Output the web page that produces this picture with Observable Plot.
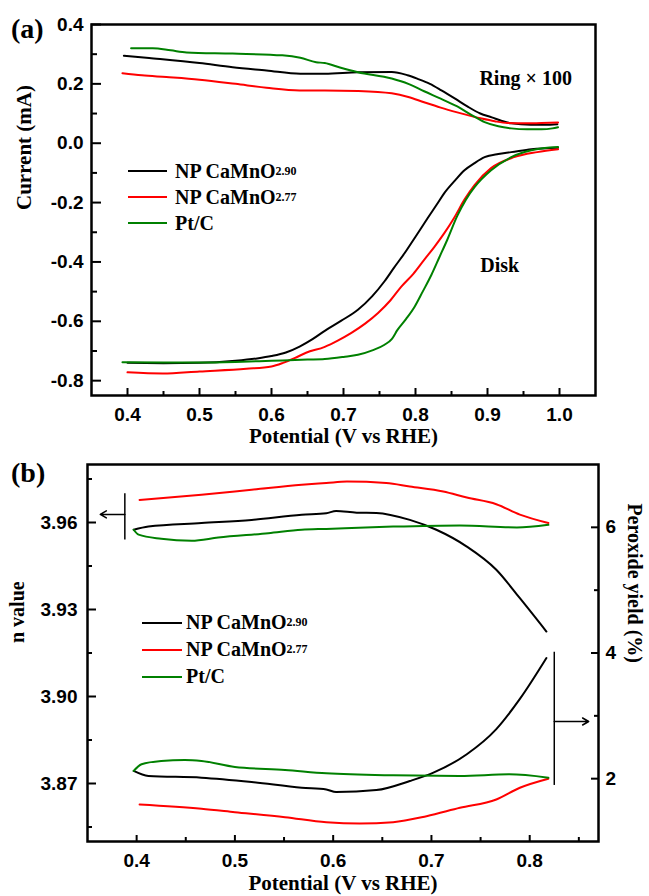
<!DOCTYPE html>
<html><head><meta charset="utf-8">
<script src="https://cdn.jsdelivr.net/npm/d3@7"></script>
<script src="https://cdn.jsdelivr.net/npm/@observablehq/plot@0.6"></script>
<style>
body{margin:0;background:#fff;}
#wrap{position:relative;width:649px;height:896px;overflow:hidden;font-family:"Liberation Serif",serif;}
.panel{position:absolute;left:0;width:649px;height:448px;}
.panel svg{position:absolute;left:0;top:0;}
.tag{position:absolute;font-weight:bold;font-size:28px;line-height:28px;}
.legend{position:absolute;font-weight:bold;font-size:20px;}
.legend .row{display:flex;align-items:center;}
.legend .sw{height:2px;}
.legend .sub{font-size:12px;}
</style></head>
<body><div id="wrap"></div>
<script>
// ---------- data ----------
const seriesNames = ["NP CaMnO2.90", "NP CaMnO2.77", "Pt/C"];
const legendBase = ["NP CaMnO", "NP CaMnO", "Pt/C"];
const legendSub = ["2.90", "2.77", ""];
const seriesColors = ["#000000", "#ff0000", "#008000"];

// (a) ring current ×100 (mA) vs potential (V vs RHE)
const ringBlack = [[0.395,0.295],[0.43,0.287],[0.5,0.27],[0.546,0.256],[0.593,0.245],[0.64,0.234],[0.674,0.234],[0.72,0.239],[0.767,0.24],[0.789,0.229],[0.803,0.217],[0.82,0.2],[0.836,0.178],[0.855,0.15],[0.872,0.124],[0.89,0.1],[0.906,0.087],[0.92,0.075],[0.933,0.067],[0.96,0.062],[0.98,0.062],[0.997,0.064]];
const ringRed = [[0.393,0.236],[0.42,0.229],[0.454,0.223],[0.5,0.214],[0.55,0.2],[0.593,0.187],[0.639,0.178],[0.674,0.178],[0.72,0.176],[0.767,0.168],[0.79,0.156],[0.812,0.138],[0.835,0.12],[0.858,0.104],[0.875,0.093],[0.892,0.083],[0.91,0.074],[0.928,0.068],[0.95,0.067],[0.975,0.068],[0.998,0.07]];
const ringGreen = [[0.405,0.32],[0.435,0.32],[0.46,0.313],[0.482,0.306],[0.546,0.302],[0.615,0.296],[0.64,0.288],[0.662,0.273],[0.674,0.27],[0.695,0.255],[0.72,0.239],[0.767,0.218],[0.79,0.2],[0.812,0.175],[0.835,0.15],[0.858,0.124],[0.878,0.095],[0.896,0.071],[0.915,0.057],[0.933,0.05],[0.955,0.047],[0.975,0.047],[0.99,0.05],[0.998,0.054]];
// (a) disk current (mA)
const diskBlack = [[0.4,-0.74],[0.45,-0.741],[0.5,-0.74],[0.55,-0.733],[0.58,-0.725],[0.6,-0.717],[0.62,-0.705],[0.639,-0.685],[0.657,-0.66],[0.674,-0.632],[0.697,-0.598],[0.72,-0.561],[0.74,-0.515],[0.757,-0.465],[0.77,-0.42],[0.785,-0.37],[0.8,-0.315],[0.817,-0.252],[0.83,-0.205],[0.84,-0.168],[0.855,-0.125],[0.868,-0.091],[0.882,-0.067],[0.896,-0.047],[0.915,-0.036],[0.933,-0.03],[0.961,-0.02],[0.998,-0.015]];
const diskRed = [[0.4,-0.772],[0.449,-0.776],[0.5,-0.769],[0.565,-0.76],[0.6,-0.752],[0.616,-0.74],[0.632,-0.724],[0.648,-0.706],[0.674,-0.686],[0.692,-0.665],[0.711,-0.639],[0.73,-0.608],[0.748,-0.572],[0.765,-0.53],[0.78,-0.484],[0.797,-0.44],[0.812,-0.393],[0.826,-0.35],[0.84,-0.303],[0.854,-0.25],[0.868,-0.19],[0.882,-0.141],[0.905,-0.084],[0.937,-0.047],[0.969,-0.03],[0.998,-0.02]];
const diskGreen = [[0.393,-0.738],[0.45,-0.739],[0.5,-0.739],[0.55,-0.737],[0.6,-0.733],[0.65,-0.729],[0.674,-0.727],[0.7,-0.72],[0.72,-0.713],[0.74,-0.698],[0.757,-0.679],[0.767,-0.66],[0.775,-0.629],[0.787,-0.592],[0.799,-0.55],[0.81,-0.5],[0.822,-0.444],[0.833,-0.385],[0.844,-0.326],[0.858,-0.245],[0.87,-0.19],[0.882,-0.148],[0.905,-0.091],[0.933,-0.047],[0.961,-0.024],[0.998,-0.013]];

// (b) electron transfer number n (left axis)
const nBlack = [[0.397,3.9575],[0.412,3.9586],[0.466,3.9598],[0.517,3.9609],[0.568,3.9627],[0.593,3.9632],[0.603,3.964],[0.624,3.9634],[0.644,3.9633],[0.678,3.9609],[0.705,3.9575],[0.736,3.9517],[0.766,3.9437],[0.79,3.9339],[0.817,3.9224]];
const nRed = [[0.403,3.9678],[0.466,3.9696],[0.517,3.9713],[0.568,3.973],[0.593,3.9736],[0.614,3.9741],[0.654,3.9736],[0.678,3.9724],[0.712,3.9707],[0.736,3.9686],[0.766,3.9663],[0.79,3.9627],[0.819,3.9598]];
const nGreen = [[0.397,3.9575],[0.402,3.9558],[0.425,3.9544],[0.456,3.9537],[0.483,3.9548],[0.534,3.9563],[0.568,3.9575],[0.593,3.9578],[0.661,3.9586],[0.729,3.959],[0.787,3.9583],[0.819,3.9592]];
// (b) peroxide yield % (right axis)
const pBlack = [[0.397,2.123],[0.412,2.043],[0.466,2.016],[0.517,1.947],[0.568,1.856],[0.593,1.829],[0.603,1.787],[0.644,1.819],[0.678,1.963],[0.702,2.096],[0.736,2.389],[0.766,2.789],[0.79,3.269],[0.817,3.92]];
const pRed = [[0.403,1.589],[0.466,1.52],[0.5,1.467],[0.551,1.387],[0.593,1.307],[0.627,1.285],[0.661,1.307],[0.695,1.403],[0.729,1.536],[0.766,1.669],[0.79,1.856],[0.819,2.0]];
const pGreen = [[0.397,2.123],[0.405,2.229],[0.425,2.283],[0.449,2.299],[0.466,2.283],[0.5,2.187],[0.551,2.139],[0.593,2.085],[0.661,2.053],[0.729,2.043],[0.779,2.069],[0.819,2.016]];

// ticks
const xTicksA = [0.4,0.5,0.6,0.7,0.8,0.9,1.0];
const xMinorA = [0.45,0.55,0.65,0.75,0.85,0.95];
const yTicksA = [-0.8,-0.6,-0.4,-0.2,0.0,0.2,0.4];
const yMinorA = [-0.7,-0.5,-0.3,-0.1,0.1,0.3];
const xTicksB = [0.4,0.5,0.6,0.7,0.8];
const xMinorB = [0.45,0.55,0.65,0.75,0.85];
const nTicks = [3.87,3.90,3.93,3.96];
const nMinor = [3.855,3.885,3.915,3.945,3.975];
const pTicks = [2,4,6];
const pMinor = [3,5];

// annotations (data units)
const notesA = [{v:0.953, y:0.218, text:"Ring × 100"},{v:0.917, y:-0.413, text:"Disk"}];
const barsN = [{x1:0.388, y1:3.9701, x2:0.388, y2:3.9541}];
const arrowsN = [{x1:0.388, y1:3.9628, x2:0.363, y2:3.9628}];
const barsP = [{x1:0.825, y1:4.02, x2:0.825, y2:1.9}];
const arrowsP = [{x1:0.825, y1:2.91, x2:0.86, y2:2.91}];

// ---------- build ----------
const rows = (arr, s, key) => arr.map(([v, y]) => ({v, y, series: seriesNames[s], key}));
const dataA = [
  ...rows(ringBlack,0,"rb"),...rows(ringRed,1,"rr"),...rows(ringGreen,2,"rg"),
  ...rows(diskBlack,0,"db"),...rows(diskRed,1,"dr"),...rows(diskGreen,2,"dg")];
const dataN = [...rows(nBlack,0,"nb"),...rows(nRed,1,"nr"),...rows(nGreen,2,"ng")];
const dataP = [...rows(pBlack,0,"pb"),...rows(pRed,1,"pr"),...rows(pGreen,2,"pg")];

const SANS = "Liberation Sans", SERIF = "Liberation Serif";
const color = {domain: seriesNames, range: seriesColors};
const baseStyle = {fontFamily: SANS, fontSize: "19px", fontWeight: "bold", background: "transparent", color: "black", overflow: "visible"};
const f1 = d => d.toFixed(1), f2 = d => d.toFixed(2), f0 = d => d.toFixed(0);
const blank = () => "";
const lineOpts = {x: "v", y: "y", z: "key", stroke: "series", strokeWidth: 2, curve: "monotone-x"};

const wrap = document.getElementById("wrap");
function panel(top) { const d = document.createElement("div"); d.className = "panel"; d.style.top = top + "px"; wrap.appendChild(d); return d; }

// panel (a)
const pa = panel(0);
pa.appendChild(Plot.plot({
  width: 649, height: 448, marginLeft: 91, marginRight: 54, marginTop: 24, marginBottom: 53,
  style: baseStyle, color,
  x: {domain: [0.35, 1.05]}, y: {domain: [-0.85, 0.4]},
  marks: [
    Plot.line(dataA, lineOpts),
    Plot.axisX({ticks: xTicksA, tickSize: -7, tickFormat: blank, label: null, strokeWidth: 2}),
    Plot.axisX({ticks: xMinorA, tickSize: -4, tickFormat: blank, label: null, strokeWidth: 2}),
    Plot.axisX({ticks: xTicksA, tickSize: 0, tickPadding: 12, tickFormat: f1, label: null}),
    Plot.axisY({ticks: yTicksA, tickSize: -10, tickFormat: blank, label: null, strokeWidth: 2}),
    Plot.axisY({ticks: yMinorA, tickSize: -6, tickFormat: blank, label: null, strokeWidth: 2}),
    Plot.axisY({ticks: yTicksA, tickSize: 0, tickPadding: 8, tickFormat: f1, label: null}),
    Plot.frame({stroke: "black", strokeWidth: 2.5}),
    Plot.text(notesA, {x: "v", y: "y", text: "text", fontFamily: SERIF, fontSize: 20, fontWeight: "bold"}),
    Plot.text(["Potential (V vs RHE)"], {frameAnchor: "bottom", dy: 47, fontFamily: SERIF, fontSize: 21, fontWeight: "bold"}),
    Plot.text(["Current (mA)"], {frameAnchor: "left", dx: -67, rotate: -90, fontFamily: SERIF, fontSize: 21, fontWeight: "bold"})
  ]
}));

// panel (b)
const pb = panel(448);
const bDims = {width: 649, height: 448, marginLeft: 87, marginRight: 51, marginTop: 16, marginBottom: 55};
pb.appendChild(Plot.plot({
  ...bDims, style: baseStyle, color,
  x: {domain: [0.35, 0.87]}, y: {domain: [3.85, 3.98]},
  marks: [
    Plot.line(dataN, lineOpts),
    Plot.axisX({ticks: xTicksB, tickSize: -6, tickFormat: blank, label: null, strokeWidth: 2}),
    Plot.axisX({ticks: xMinorB, tickSize: -4, tickFormat: blank, label: null, strokeWidth: 2}),
    Plot.axisX({ticks: xTicksB, tickSize: 0, tickPadding: 12, tickFormat: f1, label: null}),
    Plot.axisY({ticks: nTicks, tickSize: -9, tickFormat: blank, label: null, strokeWidth: 2}),
    Plot.axisY({ticks: nMinor, tickSize: -5, tickFormat: blank, label: null, strokeWidth: 2}),
    Plot.axisY({ticks: nTicks, tickSize: 0, tickPadding: 10, tickFormat: f2, label: null}),
    Plot.frame({stroke: "black", strokeWidth: 2.5}),
    Plot.link(barsN, {x1: "x1", y1: "y1", x2: "x2", y2: "y2", stroke: "black", strokeWidth: 1.5}),
    Plot.arrow(arrowsN, {x1: "x1", y1: "y1", x2: "x2", y2: "y2", stroke: "black", strokeWidth: 1.5, headLength: 7}),
    Plot.text(["Potential (V vs RHE)"], {frameAnchor: "bottom", dy: 48, fontFamily: SERIF, fontSize: 21, fontWeight: "bold"}),
    Plot.text(["n value"], {frameAnchor: "left", dx: -70, dy: -10, rotate: -90, fontFamily: SERIF, fontSize: 20, fontWeight: "bold"})
  ]
}));
pb.appendChild(Plot.plot({
  ...bDims, style: baseStyle, color,
  x: {domain: [0.35, 0.87], axis: null}, y: {domain: [1, 7], axis: null},
  marks: [
    Plot.line(dataP, lineOpts),
    Plot.axisY({anchor: "right", ticks: pTicks, tickSize: -8, tickFormat: blank, label: null, strokeWidth: 2}),
    Plot.axisY({anchor: "right", ticks: pMinor, tickSize: -5, tickFormat: blank, label: null, strokeWidth: 2}),
    Plot.axisY({anchor: "right", ticks: pTicks, tickSize: 0, tickPadding: 7, tickFormat: f0, label: null}),
    Plot.link(barsP, {x1: "x1", y1: "y1", x2: "x2", y2: "y2", stroke: "black", strokeWidth: 1.5}),
    Plot.arrow(arrowsP, {x1: "x1", y1: "y1", x2: "x2", y2: "y2", stroke: "black", strokeWidth: 1.5, headLength: 7}),
    Plot.text(["Peroxide yield (%)"], {frameAnchor: "right", dx: 36, dy: 10, rotate: 90, fontFamily: SERIF, fontSize: 20, fontWeight: "bold"})
  ]
}));

// panel tags
[["(a)", 11, 15], ["(b)", 11, 459]].forEach(([t, l, tp]) => {
  const d = document.createElement("div"); d.className = "tag"; d.textContent = t;
  d.style.left = l + "px"; d.style.top = tp + "px"; wrap.appendChild(d);
});

// legends
function legend(left, top, rowH, swW, gap) {
  const lg = document.createElement("div"); lg.className = "legend";
  lg.style.left = left + "px"; lg.style.top = top + "px";
  seriesNames.forEach((s, i) => {
    const r = document.createElement("div"); r.className = "row"; r.style.height = rowH + "px";
    const sw = document.createElement("span"); sw.className = "sw";
    sw.style.width = swW + "px"; sw.style.background = seriesColors[i]; sw.style.marginRight = gap + "px";
    const tx = document.createElement("span"); tx.textContent = legendBase[i];
    r.appendChild(sw); r.appendChild(tx);
    if (legendSub[i]) { const sb = document.createElement("span"); sb.className = "sub"; sb.textContent = legendSub[i]; r.appendChild(sb); }
    lg.appendChild(r);
  });
  wrap.appendChild(lg);
}
legend(128, 158, 26, 39, 8);
legend(142, 609, 27, 40, 4);
</script></body></html>
